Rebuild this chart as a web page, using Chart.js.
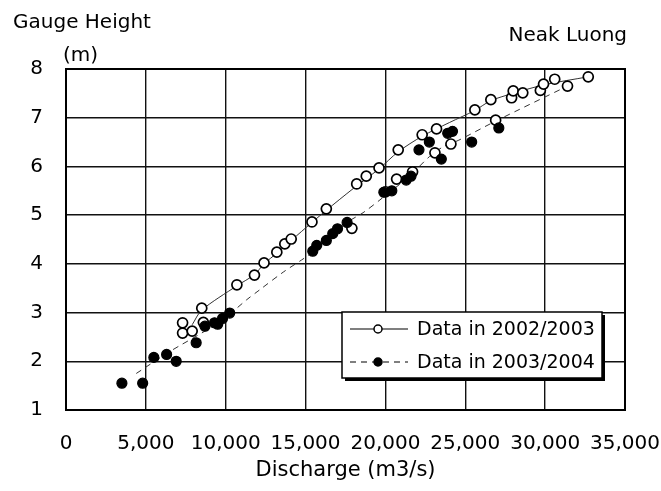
<!DOCTYPE html>
<html><head><meta charset="utf-8">
<script src="https://cdn.jsdelivr.net/npm/chart.js@4.4.1/dist/chart.umd.min.js"></script>
<style>html,body{margin:0;padding:0;background:#fff;}</style>
</head><body>
<canvas id="c" width="661" height="491"></canvas>
<script>
// ---- Data ----
const xTickLabels = ['0','5,000','10,000','15,000','20,000','25,000','30,000','35,000'];
const yTickLabels = ['1','2','3','4','5','6','7','8'];
const seriesNames = ['Data in 2002/2003', 'Data in 2003/2004'];
const yTitle = 'Gauge Height';
const yUnit = '(m)';
const xTitle = 'Discharge (m3/s)';
const siteName = 'Neak Luong';

// 2002/2003 observations (open circles)
const q2002 = [7300, 7300, 7900, 8500, 8600, 10700, 11800, 12400, 13200, 13700, 14100, 15400, 16300, 17900,
               18200, 18800, 19600, 20000, 20700, 21700, 20800, 22300, 23100, 23200, 24100, 25600, 26600,
               26900, 27900, 28000, 28600, 29700, 29900, 30600, 31400, 32700];
const h2002 = [2.79, 2.58, 2.62, 3.09, 2.80, 3.57, 3.77, 4.02, 4.24, 4.41, 4.51, 4.86, 5.13, 4.73,
               5.64, 5.80, 5.97, 5.48, 5.74, 5.89, 6.34, 6.65, 6.28, 6.77, 6.46, 7.16, 7.37,
               6.95, 7.41, 7.55, 7.51, 7.56, 7.69, 7.79, 7.65, 7.84];

// 2003/2004 observations (filled circles)
const q2003 = [3500, 4800, 5500, 6300, 6900, 8150, 8700, 9300, 9500, 9800, 10250, 15450, 15700, 16300,
               16700, 17000, 17600, 19900, 20400, 21300, 21600, 22100, 22750, 23500, 23900, 24200, 25400, 27100];
const h2003 = [1.55, 1.55, 2.08, 2.14, 2.00, 2.38, 2.72, 2.79, 2.76, 2.88, 2.99, 4.26, 4.38, 4.48,
               4.62, 4.72, 4.85, 5.47, 5.50, 5.72, 5.80, 6.34, 6.50, 6.15, 6.68, 6.72, 6.50, 6.79];

// Rating curves drawn through the data (vertices)
const fitQ2002 = [7900, 8500, 10700, 11800, 12400, 13200, 14100, 15400, 16300, 18000, 19600, 20800, 22300,
                  24000, 25600, 26600, 28000, 30000, 32700];
const fitH2002 = [2.75, 3.05, 3.55, 3.78, 4.00, 4.22, 4.48, 4.85, 5.10, 5.55, 5.95, 6.30, 6.62,
                  6.90, 7.15, 7.35, 7.50, 7.68, 7.84];
const fitQ2003 = [4400, 6500, 8700, 10000, 11300, 12100, 13600, 14750, 15500, 17600, 18600, 19800, 21500,
                  22750, 23600, 24600, 26900, 31400];
const fitH2003 = [1.75, 2.20, 2.62, 2.90, 3.26, 3.46, 3.83, 4.08, 4.25, 4.85, 5.05, 5.35, 5.80,
                  6.20, 6.40, 6.54, 6.93, 7.65];

const pts = (xs, ys) => xs.map((x, i) => ({x: x, y: ys[i]}));
const FONT = '"DejaVu Sans", "Liberation Sans", sans-serif';

const decor = {
  id: 'decor',
  afterDraw(chart) {
    const ctx = chart.ctx, a = chart.chartArea;
    ctx.save();
    ctx.strokeStyle = '#000';
    ctx.lineWidth = 2;
    ctx.strokeRect(a.left, a.top, a.right - a.left, a.bottom - a.top);

    ctx.fillStyle = '#000';
    ctx.font = '20px ' + FONT;
    ctx.textBaseline = 'alphabetic';
    ctx.textAlign = 'left';
    ctx.fillText(yTitle, 13, 28);
    ctx.fillText(yUnit, a.left - 3, 61);
    ctx.textAlign = 'right';
    ctx.fillText(siteName, a.right + 2, 41);

    // legend box inside the plot
    const L = a.right - 283, T = a.top + 243, W = 260, H = 66;
    ctx.fillStyle = '#000';
    ctx.fillRect(L + 3, T + 3, W, H);
    ctx.fillStyle = '#fff';
    ctx.fillRect(L, T, W, H);
    ctx.lineWidth = 1.5;
    ctx.strokeStyle = '#000';
    ctx.strokeRect(L, T, W, H);

    const rows = [
      {y: T + 17, dash: [], fill: '#fff', name: seriesNames[0]},
      {y: T + 50, dash: [6, 5], fill: '#000', name: seriesNames[1]}
    ];
    rows.forEach(r => {
      ctx.lineWidth = 1.2;
      ctx.setLineDash(r.dash);
      ctx.beginPath();
      ctx.moveTo(L + 8, r.y); ctx.lineTo(L + 66, r.y);
      ctx.stroke();
      ctx.setLineDash([]);
      ctx.beginPath();
      ctx.arc(L + 36, r.y, 4, 0, Math.PI * 2);
      ctx.fillStyle = r.fill;
      ctx.fill();
      ctx.lineWidth = 1.5;
      ctx.stroke();
      ctx.fillStyle = '#000';
      ctx.font = '19px ' + FONT;
      ctx.textAlign = 'left';
      ctx.textBaseline = 'middle';
      ctx.fillText(r.name, L + 75, r.y + 1);
    });
    ctx.restore();
  }
};

new Chart(document.getElementById('c'), {
  type: 'scatter',
  data: {
    datasets: [
      {label: seriesNames[1], data: pts(q2003, h2003), showLine: false,
       pointRadius: 5, pointHoverRadius: 5, pointBackgroundColor: '#000', pointBorderColor: '#000', pointBorderWidth: 1.2},
      {label: seriesNames[0], data: pts(q2002, h2002), showLine: false,
       pointRadius: 5, pointHoverRadius: 5, pointBackgroundColor: '#fff', pointBorderColor: '#000', pointBorderWidth: 1.7},
      {label: seriesNames[0] + ' curve', data: pts(fitQ2002, fitH2002), showLine: true, pointRadius: 0,
       borderColor: '#333', borderWidth: 1, tension: 0.3},
      {label: seriesNames[1] + ' curve', data: pts(fitQ2003, fitH2003), showLine: true, pointRadius: 0,
       borderColor: '#333', borderWidth: 1, borderDash: [6, 5], tension: 0.3}
    ]
  },
  options: {
    responsive: false,
    animation: false,
    devicePixelRatio: 1,
    layout: {padding: {left: 0, right: 36, top: 69, bottom: 0}},
    plugins: {legend: {display: false}, tooltip: {enabled: false}, title: {display: false}},
    scales: {
      x: {
        type: 'linear', min: 0, max: 35000,
        afterFit(s) { s.height = 81; s.paddingLeft = 0; s.paddingRight = 0; },
        ticks: {stepSize: 5000, autoSkip: false, maxRotation: 0, padding: 22, color: '#000',
                font: {family: FONT, size: 20},
                callback: (v) => xTickLabels[Math.round(v / 5000)]},
        grid: {color: '#111', lineWidth: 1.4, drawTicks: false},
        border: {display: true, color: '#000', width: 2},
        title: {display: true, text: xTitle, color: '#000', font: {family: FONT, size: 21},
                padding: {top: 0, bottom: 8}}
      },
      y: {
        type: 'linear', min: 1, max: 8,
        afterFit(s) { s.width = 66; s.paddingTop = 0; s.paddingBottom = 0; },
        ticks: {stepSize: 1, padding: 23, color: '#000', font: {family: FONT, size: 20},
                callback: (v) => yTickLabels[Math.round(v - 1)]},
        grid: {color: '#111', lineWidth: 1.4, drawTicks: false},
        border: {display: true, color: '#000', width: 2}
      }
    }
  },
  plugins: [decor]
});
</script>
</body></html>
